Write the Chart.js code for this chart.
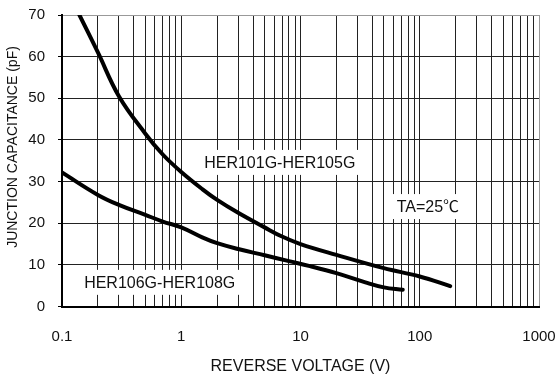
<!DOCTYPE html>
<html>
<head>
<meta charset="utf-8">
<script src="https://cdn.jsdelivr.net/npm/chart.js@4/dist/chart.umd.min.js"></script>
<style>
  html, body { margin: 0; padding: 0; background: #fff; }
  #wrap { width: 560px; height: 379px; position: relative; }
</style>
</head>
<body>
<div id="wrap"><canvas id="c" width="560" height="379"></canvas></div>
<script>
// ---- data ----
const seriesNames = ["HER101G-HER105G", "HER106G-HER108G"];
const voltsA = [0.14, 0.2, 0.3,  0.5,  0.7,  1.0,  1.5,  2.0,  3.0,  5.0,  7.0,  10,   20,   50,  100, 180];
const capA   = [70,   61,  50.5, 41.5, 36.5, 32.3, 28.2, 25.6, 22.5, 19.0, 16.8, 15.0, 12.4, 9.2, 7.2, 4.9];
const voltsB = [0.1,  0.2,  0.3,  0.5,  0.7,  1.0,  1.5,  2.0,  3.0,  5.0,  8.0,  12,  20,  35,  50,  72];
const capB   = [32.2, 26.8, 24.4, 22.0, 20.4, 19.0, 16.6, 15.2, 13.8, 12.3, 10.9, 9.7, 8.0, 5.8, 4.6, 4.0];

const xGridValues = [0.1,0.2,0.3,0.4,0.5,0.6,0.7,0.8,0.9,
                     1,2,3,4,5,6,7,8,9,
                     10,20,30,40,50,60,70,80,90,
                     100,200,300,400,500,600,700,800,900,1000];
const xTickLabels = ["0.1", "1", "10", "100", "1000"];
const xTickValues = [0.1, 1, 10, 100, 1000];
const yTickValues = [0, 10, 20, 30, 40, 50, 60, 70];

const xTitle = "REVERSE VOLTAGE (V)";
const yTitle = "JUNCTION CAPACITANCE (pF)";
const noteText = ["HER101G-HER105G", "TA=25\u2103", "HER106G-HER108G"];
const noteX = [6.7, 117, 0.66];
const noteY = [34.6, 24.0, 5.8];

const FONT = "'Liberation Sans', Arial, 'Noto Sans CJK SC', sans-serif";

const notesPlugin = {
  id: 'notes',
  beforeDatasetsDraw(chart) {
    const ctx = chart.ctx, xs = chart.scales.x, ys = chart.scales.y;
    ctx.save();
    ctx.font = "16px " + FONT;
    ctx.textAlign = 'center';
    ctx.textBaseline = 'middle';
    for (let i = 0; i < noteText.length; i++) {
      const px = xs.getPixelForValue(noteX[i]);
      const py = ys.getPixelForValue(noteY[i]);
      const w = ctx.measureText(noteText[i]).width + 10;
      const h = 25;
      ctx.fillStyle = '#fff';
      ctx.fillRect(px - w / 2, py - h / 2, w, h);
      ctx.fillStyle = '#111';
      ctx.fillText(noteText[i], px, py + 1);
    }
    ctx.restore();
  },
  afterDraw(chart) {
    const ctx = chart.ctx, a = chart.chartArea;
    ctx.save();
    ctx.fillStyle = '#111';
    ctx.textAlign = 'center';
    ctx.textBaseline = 'middle';
    ctx.font = "16px " + FONT;
    ctx.fillText(xTitle, (a.left + a.right) / 2, 367);
    ctx.font = "14px " + FONT;
    ctx.translate(13, 147);
    ctx.rotate(-Math.PI / 2);
    ctx.fillText(yTitle, 0, 0);
    ctx.restore();
  }
};

const near = (a, b) => Math.abs(a - b) / b < 1e-6;

new Chart(document.getElementById('c'), {
  type: 'line',
  data: {
    datasets: [
      { label: seriesNames[0], data: voltsA.map((v, i) => ({ x: v, y: capA[i] })) },
      { label: seriesNames[1], data: voltsB.map((v, i) => ({ x: v, y: capB[i] })) }
    ]
  },
  options: {
    responsive: false,
    animation: false,
    devicePixelRatio: 1,
    layout: { padding: { left: 0, right: 21, top: 15, bottom: 0 } },
    elements: {
      line: { borderColor: '#000', borderWidth: 4, tension: 0.4, borderCapStyle: 'round', borderJoinStyle: 'round' },
      point: { radius: 0, hoverRadius: 0 }
    },
    plugins: { legend: { display: false }, tooltip: { enabled: false } },
    scales: {
      x: {
        type: 'logarithmic',
        min: 0.1, max: 1000,
        afterBuildTicks(scale) { scale.ticks = xGridValues.map(v => ({ value: v })); },
        afterFit(scale) { scale.height = 72.5; scale.paddingLeft = 0; scale.paddingRight = 0; },
        ticks: {
          autoSkip: false, maxRotation: 0, minRotation: 0, padding: 21,
          color: '#111', font: { family: FONT, size: 15 },
          callback(value) {
            const k = xTickValues.findIndex(t => near(value, t));
            return k >= 0 ? xTickLabels[k] : '';
          }
        },
        grid: {
          drawTicks: false,
          lineWidth: 1,
          color: (c) => (c.tick && near(c.tick.value, 1000)) ? '#999' : '#222'
        },
        border: { color: '#000', width: 2 }
      },
      y: {
        min: 0, max: 70,
        afterBuildTicks(scale) { scale.ticks = yTickValues.map(v => ({ value: v })); },
        afterFit(scale) { scale.width = 62; scale.paddingTop = 0; scale.paddingBottom = 0; },
        ticks: { padding: 13, color: '#111', font: { family: FONT, size: 15 } },
        grid: {
          drawTicks: true, tickLength: 4, tickColor: '#000',
          lineWidth: 1,
          color: (c) => (c.tick && c.tick.value === 70) ? '#999' : '#222'
        },
        border: { color: '#000', width: 2 }
      }
    }
  },
  plugins: [notesPlugin]
});
</script>
</body>
</html>
